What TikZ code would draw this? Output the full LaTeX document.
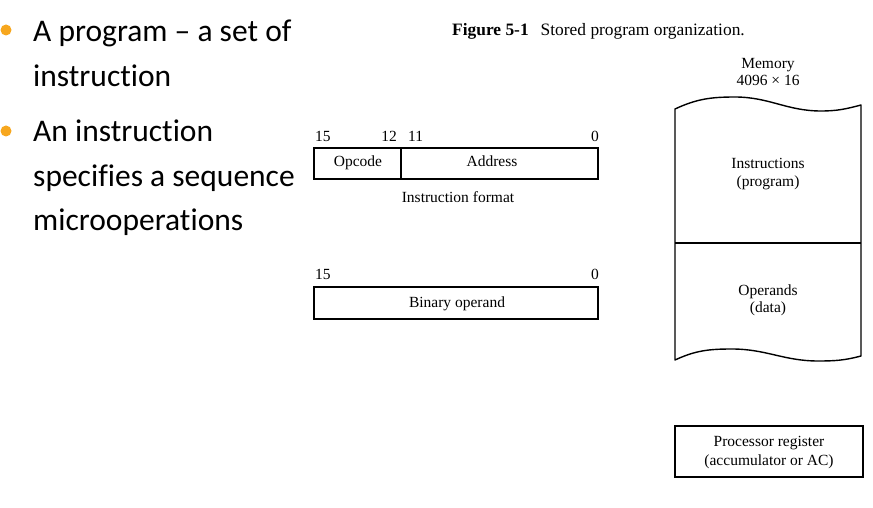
\documentclass[tikz,border=0pt]{standalone}
\usepackage{fontspec}
\setmainfont{Liberation Serif}
\newfontfamily\bulletfont[Ligatures=NoCommon]{Carlito}
\definecolor{bulletorange}{RGB}{247,167,30}
\begin{document}
\begin{tikzpicture}[x=1pt,y=-1pt,
  figtext/.style={font=\fontsize{15.5}{18}\selectfont, inner sep=0pt},
  captext/.style={font=\fontsize{17.4}{20}\selectfont, inner sep=0pt, anchor=base west},
  bullettext/.style={font=\bulletfont\fontsize{31.5}{38}\selectfont, anchor=base west, inner sep=0pt},
  bulletdot/.style={circle, fill=bulletorange, minimum size=11pt, inner sep=0pt},
  field/.style={draw, line width=1.2pt, inner sep=0pt},
  memline/.style={line width=1.4pt, line join=round}
]
\useasboundingbox (0,0) rectangle (873,508);

% bullet list
\node[bulletdot] (b1) at (6,30) {};
\node[bulletdot] (b2) at (6,131) {};
\node[bullettext] (t1) at (33,42) {A program – a set of};
\node[bullettext] (t2) at (33,87) {instruction};
\node[bullettext] (t3) at (33,142) {An instruction};
\node[bullettext] (t4) at (33,186) {specifies a sequence};
\node[bullettext] (t5) at (33,230) {microoperations};

% caption
\node[captext] (cap) at (452,36) {\textbf{Figure 5-1}\hspace{12pt}Stored program organization.};

% instruction format
\node[field, minimum width=87pt, minimum height=31pt] (opcode) at (357.5,163.5) {};
\node[field, minimum width=197pt, minimum height=31pt] (address) at (499.5,163.5) {};
\node[figtext, anchor=base] (opcodelbl) at (358,167) {Opcode};
\node[figtext, anchor=base] (addresslbl) at (492,167) {Address};
\node[figtext, anchor=base west] (b15) at (315,142) {15};
\node[figtext, anchor=base east] (b12) at (397,142) {12};
\node[figtext, anchor=base west] (b11) at (408,142) {11};
\node[figtext, anchor=base east] (b0) at (599,142) {0};
\node[figtext, anchor=base] (fmt) at (458,202) {Instruction format};

% binary operand
\node[field, minimum width=284pt, minimum height=32pt] (operand) at (456,303) {};
\node[figtext, anchor=base] (operandlbl) at (457,307) {Binary operand};
\node[figtext, anchor=base west] (o15) at (315,279) {15};
\node[figtext, anchor=base east] (o0) at (599,279) {0};

% memory with torn top and bottom edges
\node[figtext, anchor=base] (memlbl) at (768,69) {Memory};
\node[figtext, anchor=base] (memsize) at (768,86) {4096 × 16};
\draw[memline] (675,109)
  to[out=25,in=180] (735,97) to[out=0,in=180] (821,111) to[out=0,in=195] (861,105)
  -- (861,356) to[out=195,in=0] (818,361) to[out=180,in=0] (732,349)
  to[out=180,in=25] (675,360) -- cycle;
\draw[memline] (675,243) -- (861,243);
\node[figtext, anchor=base] (instr1) at (768,168) {Instructions};
\node[figtext, anchor=base] (instr2) at (768,186) {(program)};
\node[figtext, anchor=base] (data1) at (768,295) {Operands};
\node[figtext, anchor=base] (data2) at (768,312) {(data)};

% processor register
\node[field, minimum width=188pt, minimum height=51pt] (ac) at (769,451.5) {};
\node[figtext, anchor=base] (ac1) at (769,446) {Processor register};
\node[figtext, anchor=base] (ac2) at (769,465) {(accumulator or AC)};
\end{tikzpicture}
\end{document}
